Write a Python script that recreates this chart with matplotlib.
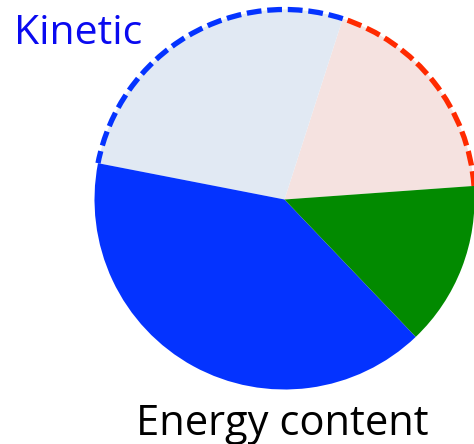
import matplotlib
matplotlib.use("Agg")
import matplotlib.pyplot as plt
from matplotlib.patches import Arc
import numpy as np

# slice shares (%), counter-clockwise from the start angle
labels = ["Other", "Kinetic (rest)", "Kinetic (main)", "Green"]
values = [18.9, 26.9, 40.2, 14.0]
colors = ["#F5E2E0", "#E1E9F3", "#0433FF", "#028A00"]
start_angle = 4.1

# dashed outline over the slices (index into values -> colour)
outline = {0: "#FF2A00", 1: "#0433FF"}

W, H = 474, 444
fig = plt.figure(figsize=(W / 100, H / 100), dpi=100)
ax = fig.add_axes([0, 0, 1, 1])

cx, cy, r = 284.5, 244.5, 190
ax.pie(values, colors=colors, startangle=start_angle, counterclock=True,
       radius=r, center=(cx, cy), frame=False,
       wedgeprops=dict(linewidth=0))

edges = start_angle + np.concatenate([[0], np.cumsum(values)]) * 3.6
for i, col in outline.items():
    arc = Arc((cx, cy), 2 * r, 2 * r, theta1=edges[i], theta2=edges[i + 1],
              color=col, linewidth=3.8, linestyle=(0, (2.8, 1.1)),
              capstyle="butt")
    ax.add_patch(arc)

ax.text(14, 400, "Kinetic", fontsize=29.5, color="#0A0AF0",
        family="Open Sans", ha="left", va="baseline")
ax.text(282, 9, "Energy content", fontsize=30, color="black",
        family="Open Sans", ha="center", va="baseline")

ax.set_xlim(0, W)
ax.set_ylim(0, H)
ax.set_aspect("equal")
ax.axis("off")
fig.savefig("out.png", dpi=100)
